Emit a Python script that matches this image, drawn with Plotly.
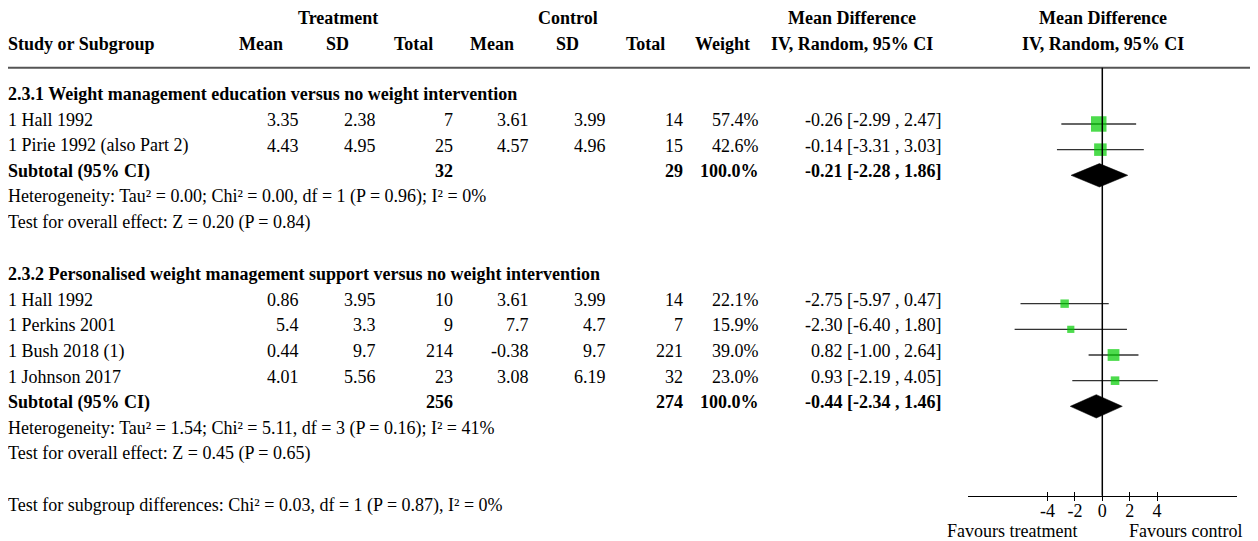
import plotly.graph_objects as go

# ---------------- data ----------------
subgroup_titles = [
    "2.3.1 Weight management education versus no weight intervention",
    "2.3.2 Personalised weight management support versus no weight intervention",
]
study_names = ["1 Hall 1992", "1 Pirie 1992 (also Part 2)",
               "1 Hall 1992", "1 Perkins 2001", "1 Bush 2018 (1)", "1 Johnson 2017"]
study_group = [0, 0, 1, 1, 1, 1]
t_mean = [3.35, 4.43, 0.86, 5.4, 0.44, 4.01]
t_sd = [2.38, 4.95, 3.95, 3.3, 9.7, 5.56]
t_total = [7, 25, 10, 9, 214, 23]
c_mean = [3.61, 4.57, 3.61, 7.7, -0.38, 3.08]
c_sd = [3.99, 4.96, 3.99, 4.7, 9.7, 6.19]
c_total = [14, 15, 14, 7, 221, 32]
weight = [57.4, 42.6, 22.1, 15.9, 39.0, 23.0]
md = [-0.26, -0.14, -2.75, -2.30, 0.82, 0.93]
ci_lo = [-2.99, -3.31, -5.97, -6.40, -1.00, -2.19]
ci_hi = [2.47, 3.03, 0.47, 1.80, 2.64, 4.05]

sub_t_total = [32, 256]
sub_c_total = [29, 274]
sub_weight = [100.0, 100.0]
sub_md = [-0.21, -0.44]
sub_lo = [-2.28, -2.34]
sub_hi = [1.86, 1.46]
heterogeneity = [
    "Heterogeneity: Tau² = 0.00; Chi² = 0.00, df = 1 (P = 0.96); I² = 0%",
    "Heterogeneity: Tau² = 1.54; Chi² = 5.11, df = 3 (P = 0.16); I² = 41%",
]
overall_effect = [
    "Test for overall effect: Z = 0.20 (P = 0.84)",
    "Test for overall effect: Z = 0.45 (P = 0.65)",
]
subgroup_diff = "Test for subgroup differences: Chi² = 0.03, df = 1 (P = 0.87), I² = 0%"

col_headers = ["Mean", "SD", "Total", "Mean", "SD", "Total", "Weight", "IV, Random, 95% CI"]
group_headers = ["Treatment", "Control", "Mean Difference"]
plot_headers = ["Mean Difference", "IV, Random, 95% CI"]
tick_vals = [-4, -2, 0, 2, 4]
tick_text = ["-4", "-2", "0", "2", "4"]
favours = ["Favours treatment", "Favours control"]

# ---------------- layout constants ----------------
PAGE_W, PAGE_H = 1258, 541
OFF = 8                            # page body margin
W, H = PAGE_W - OFF, PAGE_H - OFF  # figure size
FONT = "Liberation Serif"
FS = 18
ROW0, STEP = 98.3, 25.67          # page-pixel y of row 0 marker centre, row pitch
TXT_OFF = -4                       # text sits slightly above marker centre
LEFT = 8
COL_C = [260.5, 337.5, 413.5, 491.8, 567.8, 645, 722, 851.5]   # header centres
COL_R = [299, 376, 452.5, 528.6, 606.4, 683.2, 759, 941]       # value right edges
GROUP_C = [338, 568, 851.5]
PLOT_C = 1102.5
ZERO_PX, PX_UNIT = 1102.3, 13.7
XR = 9.8
TOPLINE_Y = 67.7
AXIS_Y = 495.7
DIAMOND_H = 11.7


def rowy(i):
    return ROW0 + STEP * i


def px(x):
    return (x - OFF) / W


# row assignment
rows_study = []
rows_sub = []
rows_title = []
r = 0
for g in range(2):
    rows_title.append(r)
    r += 1
    for k, gg in enumerate(study_group):
        if gg == g:
            rows_study.append(r)
            r += 1
    rows_sub.append(r)
    r += 4  # subtotal, heterogeneity, overall, blank
row_subdiff = r

fig = go.Figure()

# study CIs and squares
fig.add_trace(go.Scatter(
    x=md, y=[rowy(i) for i in rows_study], mode="markers",
    marker=dict(symbol="square", color="#00CC00",
                size=[4 + 0.2 * w for w in weight], line=dict(width=0)),
    error_x=dict(type="data", symmetric=False,
                 array=[h - m for h, m in zip(ci_hi, md)],
                 arrayminus=[m - l for m, l in zip(md, ci_lo)],
                 width=0, thickness=1.4, color="#333333"),
    hoverinfo="skip", cliponaxis=False,
))

# subtotal diamonds
for g in range(2):
    yc = rowy(rows_sub[g])
    fig.add_trace(go.Scatter(
        x=[sub_lo[g], sub_md[g], sub_hi[g], sub_md[g], sub_lo[g]],
        y=[yc, yc - DIAMOND_H, yc, yc + DIAMOND_H, yc],
        mode="lines", fill="toself", fillcolor="black",
        line=dict(color="black", width=0.5), hoverinfo="skip",
    ))

# invisible trace so the overlay tick axis is drawn
fig.add_trace(go.Scatter(x=[0], y=[-100], xaxis="x2", yaxis="y",
                         mode="markers", marker=dict(opacity=0),
                         hoverinfo="skip"))

ann = []


def txt(x, y, s, anchor="left", bold=False, xref="paper"):
    ann.append(dict(
        x=px(x) if xref == "paper" else x, y=y, xref=xref, yref="y",
        text=f"<b>{s}</b>" if bold else s, showarrow=False,
        xanchor=anchor, yanchor="middle", borderpad=0, borderwidth=0,
        font=dict(family=FONT, size=FS, color="black"),
    ))


# headers
HDR1, HDR2 = 17.5, 43.5
for c, s in zip(GROUP_C, group_headers):
    txt(c, HDR1, s, "center", True)
txt(PLOT_C, HDR1, plot_headers[0], "center", True)
txt(LEFT, HDR2, "Study or Subgroup", "left", True)
for c, s in zip(COL_C, col_headers):
    txt(c, HDR2, s, "center", True)
txt(PLOT_C, HDR2, plot_headers[1], "center", True)

# studies
for k, i in enumerate(rows_study):
    y = rowy(i) + TXT_OFF
    txt(LEFT, y, study_names[k])
    vals = [str(t_mean[k]), str(t_sd[k]), str(t_total[k]),
            str(c_mean[k]), str(c_sd[k]), str(c_total[k]),
            f"{weight[k]:.1f}%",
            f"{md[k]:.2f} [{ci_lo[k]:.2f} , {ci_hi[k]:.2f}]"]
    for xr, v in zip(COL_R, vals):
        txt(xr, y, v, "right")

# subgroup titles and summaries
for g in range(2):
    txt(LEFT, rowy(rows_title[g]) + TXT_OFF, subgroup_titles[g], "left", True)
    y = rowy(rows_sub[g]) + TXT_OFF
    txt(LEFT, y, "Subtotal (95% CI)", "left", True)
    txt(COL_R[2], y, str(sub_t_total[g]), "right", True)
    txt(COL_R[5], y, str(sub_c_total[g]), "right", True)
    txt(COL_R[6], y, f"{sub_weight[g]:.1f}%", "right", True)
    txt(COL_R[7], y, f"{sub_md[g]:.2f} [{sub_lo[g]:.2f} , {sub_hi[g]:.2f}]", "right", True)
    txt(LEFT, rowy(rows_sub[g] + 1) + TXT_OFF, heterogeneity[g])
    txt(LEFT, rowy(rows_sub[g] + 2) + TXT_OFF, overall_effect[g])

txt(LEFT, rowy(row_subdiff) + TXT_OFF, subgroup_diff)

# favours labels
FAV_Y = 531
txt(-1.85, FAV_Y, favours[0], "right", xref="x")
txt(1.95, FAV_Y, favours[1], "left", xref="x")

shapes = [
    dict(type="line", xref="paper", yref="y", x0=px(LEFT), x1=1,
         y0=TOPLINE_Y, y1=TOPLINE_Y, line=dict(color="#555555", width=2)),
    dict(type="line", xref="x", yref="y", x0=0, x1=0,
         y0=TOPLINE_Y, y1=AXIS_Y, line=dict(color="black", width=1.5)),
]

dom = [px(ZERO_PX - XR * PX_UNIT), px(ZERO_PX + XR * PX_UNIT)]
axis_pos = (PAGE_H - AXIS_Y) / H

fig.update_layout(
    width=W, height=H, margin=dict(l=0, r=0, t=0, b=0),
    paper_bgcolor="white", plot_bgcolor="rgba(0,0,0,0)", showlegend=False,
    annotations=ann, shapes=shapes,
    xaxis=dict(domain=dom, range=[-XR, XR], anchor="free", position=axis_pos,
               showline=True, linecolor="black", linewidth=1,
               ticks="inside", ticklen=4, tickwidth=1, tickcolor="black",
               tickvals=tick_vals, ticktext=tick_text, ticklabelstandoff=-1,
               tickfont=dict(family=FONT, size=FS, color="black"),
               showgrid=False, zeroline=False, fixedrange=True),
    xaxis2=dict(overlaying="x", range=[-XR, XR], anchor="free", position=axis_pos,
                showline=False, ticks="outside", ticklen=4, tickwidth=1,
                tickcolor="black", tickvals=tick_vals, showticklabels=False,
                showgrid=False, zeroline=False, fixedrange=True),
    yaxis=dict(domain=[0, 1], range=[PAGE_H, OFF], visible=False, fixedrange=True),
)

fig.write_html("out.html")
